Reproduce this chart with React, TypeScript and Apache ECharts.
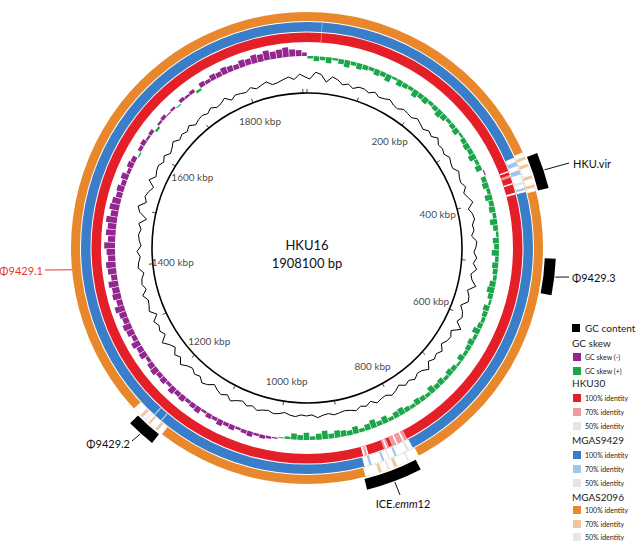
import React, { useEffect, useRef } from "react";
import * as echarts from "echarts";

// ---------------- DATA ----------------
const genomeName = "HKU16";
const genomeLengthBp = 1908100;
const binBp = 10000;

// GC content deviation per 10 kbp bin (arbitrary units, + outward)
const gcContent = [
  1, 8, 6, -1, 5, 3, -1, 1, -2, 1,
  1, -1, 2, -1, 0, 2, -1, -2, 1, 0,
  -1, 2, 0, -2, 1, -1, 3, -1, 0, -2,
  1, -1, -2, 2, 0, -1, 2, -2, 1, 4,
  -2, 1, 2, -1, 0, -3, 2, 1, -1, 2,
  -1, 3, -2, 0, 5, -2, 1, 2, -4, 0,
  2, -1, 6, -2, 1, 0, -3, 2, -1, 1,
  -2, 4, 0, -1, 2, -1, 1, -3, 0, 2,
  -1, 0, 2, -2, 1, -1, 2, 0, -1, 0,
  1, -1, 0, 2, -1, 0, -1, 1, 0, -2,
  0, 1, -1, 0, 2, -1, 1, -2, 0, 3,
  -1, 2, 0, -3, 1, 3, -1, 1, -2, 0,
  4, -1, 2, -3, 0, 5, -2, 1, -1, 2,
  -4, 2, 0, -1, 3, -2, 1, 0, -3, 2,
  1, -1, 2, -2, 0, 1, -1, 2, -5, 3,
  6, -1, 2, 0, -3, 4, -1, 1, 2, -1,
  2, -2, 0, 3, -1, 1, -1, 2, -2, 0,
  1, -1, 2, -1, 0, 3, -2, 1, 0, -1,
  2, -1, 1, 3, -1, 0, 2, 4, 1, 6, 3,
];

// GC skew per 10 kbp bin
const gcSkew = [
  0.02, 0.04, 0.03, 0.05, 0.02, 0.04, 0.06, 0.03, 0.05, 0.04,
  0.03, 0.05, 0.04, 0.06, 0.02, 0.05, 0.04, 0.03, 0.06, 0.04,
  0.05, 0.03, 0.04, 0.06, 0.05, 0.03, 0.04, 0.05, 0.02, 0.04,
  0.05, 0.04, 0.06, 0.03, 0.05, -0.01, 0.04, 0.05, 0.03, 0.06,
  0.04, 0.05, 0.03, 0.06, 0.04, 0.02, 0.05, 0.04, 0.06, 0.03,
  0.05, 0.04, 0.03, 0.05, 0.06, 0.04, 0.02, 0.05, 0.04, 0.03,
  0.04, 0.06, 0.03, 0.05, 0.04, 0.03, 0.05, 0.02, 0.04, 0.05,
  0.03, 0.05, 0.04, 0.06, 0.03, 0.04, 0.05, 0.03, 0.04, 0.06,
  0.05, 0.03, 0.06, 0.04, 0.07, 0.05, 0.03, 0.06, 0.04, 0.05,
  0.06, 0.04, 0.07, 0.05, 0.03, 0.06, 0.04, 0.05, 0.02, 0.01,
  -0.01, -0.02, -0.03, -0.02, -0.04, -0.03, -0.02, -0.04, -0.03, -0.05,
  -0.03, -0.04, -0.02, -0.05, -0.04, -0.03, -0.05, -0.04, -0.06, -0.03,
  -0.05, -0.04, -0.06, -0.05, -0.03, -0.06, -0.05, -0.07, -0.04, -0.06,
  -0.07, -0.05, -0.06, -0.08, -0.05, -0.07, -0.06, -0.08, -0.05, -0.07,
  -0.08, -0.06, -0.07, -0.09, -0.06, -0.08, -0.07, -0.09, -0.06, -0.08,
  -0.07, -0.05, -0.06, -0.04, -0.06, -0.03, -0.05, -0.04, 0.01, -0.03,
  -0.04, -0.02, -0.03, 0.02, -0.02, -0.03, -0.01, -0.02, 0.01, -0.03,
  -0.02, -0.03, 0.02, -0.04, -0.03, -0.05, -0.04, -0.06, -0.05, -0.04,
  -0.06, -0.05, -0.07, -0.06, -0.08, -0.06, -0.07, -0.08, -0.06, -0.05, -0.03,
];

const tickLabelKbp = [200, 400, 600, 800, 1000, 1200, 1400, 1600, 1800];
const tickIntervalKbp = 100;

// BLAST identity segments [startKbp, endKbp, identity%] (0 = no hit); later ones drawn on top
const hku30Segments = [
  [0, 1908.1, 100],
  [20, 21, 70],
  [366, 368, 0], [372, 376, 70], [384, 386, 0], [398, 401, 0],
  [807, 812, 70], [812, 815, 0], [815, 822, 70], [822, 825, 0], [825, 831, 70],
  [835, 843, 70], [838, 840, 0], [866, 874, 0], [868, 871, 70],
];
const mgas9429Segments = [
  [0, 1908.1, 100],
  [20, 21, 70],
  [352, 401, 0], [358, 364, 70], [370, 376, 70], [386, 390, 50], [395, 398, 70],
  [806, 876, 0], [812, 815, 50], [830, 833, 70], [840, 842, 50], [848, 851, 70], [866, 869, 70],
  [1166, 1168, 70], [1178, 1180, 70],
];
const mgas2096Segments = [
  [0, 1908.1, 100],
  [350, 403, 0], [356, 360, 70], [366, 370, 70], [382, 386, 70], [394, 398, 70],
  [804, 878, 0], [818, 820, 50], [835, 839, 70], [845, 848, 50], [856, 860, 70],
  [1155, 1204, 0], [1162, 1166, 70], [1175, 1178, 70], [1182, 1184, 50], [1188, 1192, 70],
];

const annotationNames = ["HKU.vir", "Φ9429.3", "ICE.emm12", "Φ9429.2", "Φ9429.1"];
const annotationStartKbp = [358, 490, 810, 1158, 1403];
const annotationEndKbp = [403, 535, 880, 1194, 1403];

const legendTexts = [
  "GC content", "GC skew", "GC skew (-)", "GC skew (+)",
  "HKU30", "100% identity", "70% identity", "50% identity",
  "MGAS9429", "100% identity", "70% identity", "50% identity",
  "MGAS2096", "100% identity", "70% identity", "50% identity",
];

// ---------------- STYLE / LAYOUT ----------------
const FONT = "Lato, 'Open Sans', sans-serif";
const CX = 307;
const CY = 248;
const PURPLE = "#93278F";
const GREEN = "#1BA64A";
const SKEW_BAR_FRACTION = 0.9;
const PALETTES: Record<string, string[]> = {
  hku30: ["#E41F27", "#EF9CA0", "#E5E5E5"],
  mgas9429: ["#3A7DC9", "#A0C5EB", "#E5E5E5"],
  mgas2096: ["#E8872C", "#F0C69E", "#E7E7EB"],
};
const RINGS = [
  { key: "hku30", segs: hku30Segments, r0: 206, r1: 215.5 },
  { key: "mgas9429", segs: mgas9429Segments, r0: 216.5, r1: 226 },
  { key: "mgas2096", segs: mgas2096Segments, r0: 227, r1: 236 },
];
const ANN_R0 = 238;
const ANN_R1 = 249;
const annotationLayout = [
  { lineTo: [569, 163], textAt: [573, 163], align: "left", color: "#111" },
  { lineTo: [569, 277], textAt: [572, 277], align: "left", color: "#111" },
  { lineTo: [400, 495], textAt: [403, 503], align: "center", color: "#111" },
  { lineTo: [132, 441], textAt: [130, 443], align: "right", color: "#111" },
  { lineTo: [45, 270], textAt: [43, 270], align: "right", color: "#E8352B" },
];
const legendKinds = ["main", "header", "item", "item", "header", "item", "item", "item", "header", "item", "item", "item", "header", "item", "item", "item"];
const legendColors = [
  "#000", null, PURPLE, GREEN,
  null, PALETTES.hku30[0], PALETTES.hku30[1], PALETTES.hku30[2],
  null, PALETTES.mgas9429[0], PALETTES.mgas9429[1], PALETTES.mgas9429[2],
  null, PALETTES.mgas2096[0], PALETTES.mgas2096[1], PALETTES.mgas2096[2],
];
const legendY = [328, 343, 357, 371, 383, 398, 412, 426, 440, 455, 469, 483, 497, 510, 524, 537];

function identityColor(key: string, id: number) {
  const p = PALETTES[key];
  if (id >= 100) return p[0];
  if (id >= 70) return p[1];
  if (id >= 50) return p[2];
  return "#ffffff";
}

function angleOf(p: number[], cs: any) {
  return Math.atan2(p[1] - cs.cy, p[0] - cs.cx);
}

function makeSector(cs: any, a0: number, a1: number, r0: number, r1: number, fill: string) {
  let e = a1;
  while (e <= a0) e += Math.PI * 2;
  return {
    type: "sector",
    shape: { cx: cs.cx, cy: cs.cy, r0, r: r1, startAngle: a0, endAngle: e, clockwise: true },
    style: { fill },
  };
}

export default function App() {
  const ref = useRef<HTMLDivElement>(null);

  useEffect(() => {
    if (!ref.current) return;
    const chart = echarts.init(ref.current, undefined, { renderer: "svg" });

    const polarIdx = [0, 1, 2, 3];
    const polar = [
      { center: [CX, CY], radius: [0, 260] },
      { center: [CX, CY], radius: [158, 178] },
      { center: [CX, CY], radius: [180, 204] },
      { center: [CX, CY], radius: [0, 155] },
    ];
    const angleAxis = polarIdx.map((i) => ({
      polarIndex: i,
      type: "value",
      min: 0,
      max: genomeLengthBp,
      startAngle: 90,
      clockwise: true,
      show: i === 3,
      interval: tickIntervalKbp * 1000,
      axisLine: { show: true, lineStyle: { color: "#000", width: 1.6 } },
      axisTick: { show: true, length: 4, lineStyle: { color: "#444", width: 1 } },
      axisLabel: { show: false },
      splitLine: { show: false },
      splitArea: { show: false },
    }));
    const radiusAxis = [
      { polarIndex: 0, type: "value", min: 0, max: 260, show: false },
      { polarIndex: 1, type: "value", min: -10, max: 10, show: false },
      { polarIndex: 2, type: "value", min: -0.1, max: 0.1, inverse: true, show: false },
      { polarIndex: 3, type: "value", min: 0, max: 1, show: false },
    ];

    const ringSeries = RINGS.map((ring) => ({
      type: "custom",
      name: ring.key,
      coordinateSystem: "polar",
      polarIndex: 0,
      silent: true,
      data: ring.segs.map((s) => [s[2], s[0] * 1000, s[1] * 1000]),
      renderItem: (params: any, api: any) => {
        const cs = params.coordSys;
        const id = api.value(0);
        const s = api.value(1);
        const e = api.value(2);
        const fill = identityColor(ring.key, id);
        if (e - s >= genomeLengthBp - 1) {
          const pIn = api.coord([ring.r0, s]);
          const pOut = api.coord([ring.r1, s]);
          return {
            type: "ring",
            shape: {
              cx: cs.cx, cy: cs.cy,
              r0: Math.hypot(pIn[0] - cs.cx, pIn[1] - cs.cy),
              r: Math.hypot(pOut[0] - cs.cx, pOut[1] - cs.cy),
            },
            style: { fill },
          };
        }
        const p0 = api.coord([ring.r1, s]);
        const p1 = api.coord([ring.r1, e]);
        const pIn = api.coord([ring.r0, s]);
        return makeSector(
          cs, angleOf(p0, cs), angleOf(p1, cs),
          Math.hypot(pIn[0] - cs.cx, pIn[1] - cs.cy),
          Math.hypot(p0[0] - cs.cx, p0[1] - cs.cy),
          fill
        );
      },
    }));

    const skewSeries = {
      type: "custom",
      name: "GC skew",
      coordinateSystem: "polar",
      polarIndex: 2,
      silent: true,
      data: gcSkew.map((v, i) => [v, i * binBp, Math.min((i + 1) * binBp, genomeLengthBp)]),
      renderItem: (params: any, api: any) => {
        const cs = params.coordSys;
        const v = api.value(0);
        const s0 = api.value(1);
        const e0 = api.value(2);
        const pad = ((e0 - s0) * (1 - SKEW_BAR_FRACTION)) / 2;
        const s = s0 + pad;
        const e = e0 - pad;
        const base = api.coord([0, s]);
        const tip = api.coord([v, s]);
        const endP = api.coord([0, e]);
        const rb = Math.hypot(base[0] - cs.cx, base[1] - cs.cy);
        const rt = Math.hypot(tip[0] - cs.cx, tip[1] - cs.cy);
        return makeSector(cs, angleOf(base, cs), angleOf(endP, cs), Math.min(rb, rt), Math.max(rb, rt), v < 0 ? PURPLE : GREEN);
      },
    };

    const gcLine = gcContent.map((v, i) => [v, i * binBp + binBp / 2]);
    gcLine.push([gcContent[0], genomeLengthBp + binBp / 2]);
    const gcSeries = {
      type: "line",
      name: "GC content",
      coordinateSystem: "polar",
      polarIndex: 1,
      silent: true,
      symbol: "none",
      clip: false,
      data: gcLine,
      lineStyle: { color: "#000", width: 1 },
    };

    const annotationSeries = {
      type: "custom",
      name: "annotations",
      coordinateSystem: "polar",
      polarIndex: 0,
      silent: true,
      data: annotationNames.map((n, i) => [0, annotationStartKbp[i] * 1000, annotationEndKbp[i] * 1000]),
      renderItem: (params: any, api: any) => {
        const cs = params.coordSys;
        const i = params.dataIndex;
        const s = api.value(1);
        const e = api.value(2);
        const lay = annotationLayout[i];
        const children: any[] = [];
        let anchor;
        if (e > s) {
          const p0 = api.coord([ANN_R1, s]);
          const p1 = api.coord([ANN_R1, e]);
          const pIn = api.coord([ANN_R0, s]);
          children.push(
            makeSector(cs, angleOf(p0, cs), angleOf(p1, cs),
              Math.hypot(pIn[0] - cs.cx, pIn[1] - cs.cy),
              Math.hypot(p0[0] - cs.cx, p0[1] - cs.cy), "#000")
          );
          anchor = api.coord([ANN_R1 + 1, (s + e) / 2]);
        } else {
          anchor = api.coord([RINGS[2].r1, s]);
        }
        children.push({
          type: "line",
          shape: { x1: anchor[0], y1: anchor[1], x2: lay.lineTo[0], y2: lay.lineTo[1] },
          style: { stroke: lay.color, lineWidth: 1 },
        });
        const name = annotationNames[i];
        const isIce = name.indexOf("emm") >= 0;
        children.push({
          type: "text",
          x: lay.textAt[0],
          y: lay.textAt[1],
          style: {
            text: isIce ? "{n|ICE.}{i|emm}{n|12}" : name,
            fill: lay.color,
            font: `11px ${FONT}`,
            fontSize: 11,
            fontFamily: FONT,
            align: lay.align,
            textAlign: lay.align,
            verticalAlign: "middle",
            textVerticalAlign: "middle",
            rich: isIce
              ? {
                  n: { fontSize: 11, fontFamily: FONT, fill: lay.color },
                  i: { fontSize: 11, fontFamily: FONT, fontStyle: "italic", fill: lay.color },
                }
              : undefined,
          },
        });
        return { type: "group", children };
      },
    };

    const tickLabelSeries = {
      type: "scatter",
      name: "ticks",
      coordinateSystem: "polar",
      polarIndex: 0,
      silent: true,
      symbolSize: 1,
      itemStyle: { color: "rgba(0,0,0,0)" },
      data: tickLabelKbp.map((k) => [135, k * 1000]),
      label: {
        show: true,
        position: "inside",
        formatter: (p: any) => `${p.value[1] / 1000} kbp`,
        fontSize: 10,
        fontFamily: FONT,
        color: "#111",
      },
    };

    // legend graphic
    const legendGraphics: any[] = [];
    legendTexts.forEach((t, k) => {
      const kind = legendKinds[k];
      const y = legendY[k];
      if (kind === "header") {
        legendGraphics.push({
          type: "text", x: 572, y,
          style: { text: t, fill: "#222", font: `10px ${FONT}`, textAlign: "left", align: "left", textVerticalAlign: "middle", verticalAlign: "middle" },
        });
      } else {
        legendGraphics.push({ type: "rect", shape: { x: kind === "main" ? 572 : 573, y: y - 4, width: 8, height: 8 }, style: { fill: legendColors[k] } });
        legendGraphics.push({
          type: "text", x: 585, y,
          style: {
            text: t, fill: "#222",
            font: `${kind === "main" ? 10 : 7}px ${FONT}`,
            textAlign: "left", align: "left", textVerticalAlign: "middle", verticalAlign: "middle",
          },
        });
      }
    });

    chart.setOption({
      animation: false,
      backgroundColor: "#fff",
      polar,
      angleAxis,
      radiusAxis,
      graphic: [
        {
          type: "text", x: CX, y: 245,
          style: { text: genomeName, fill: "#111", font: `13px ${FONT}`, textAlign: "center", align: "center", textVerticalAlign: "middle", verticalAlign: "middle" },
        },
        {
          type: "text", x: CX, y: 263,
          style: { text: `${genomeLengthBp} bp`, fill: "#111", font: `13px ${FONT}`, textAlign: "center", align: "center", textVerticalAlign: "middle", verticalAlign: "middle" },
        },
        ...legendGraphics,
      ],
      series: [...ringSeries, skewSeries, gcSeries, annotationSeries, tickLabelSeries],
    });

    return () => chart.dispose();
  }, []);

  return (
    <div
      ref={ref}
      style={{ position: "absolute", left: 0, top: 0, width: 640, height: 544, background: "#fff" }}
    />
  );
}
